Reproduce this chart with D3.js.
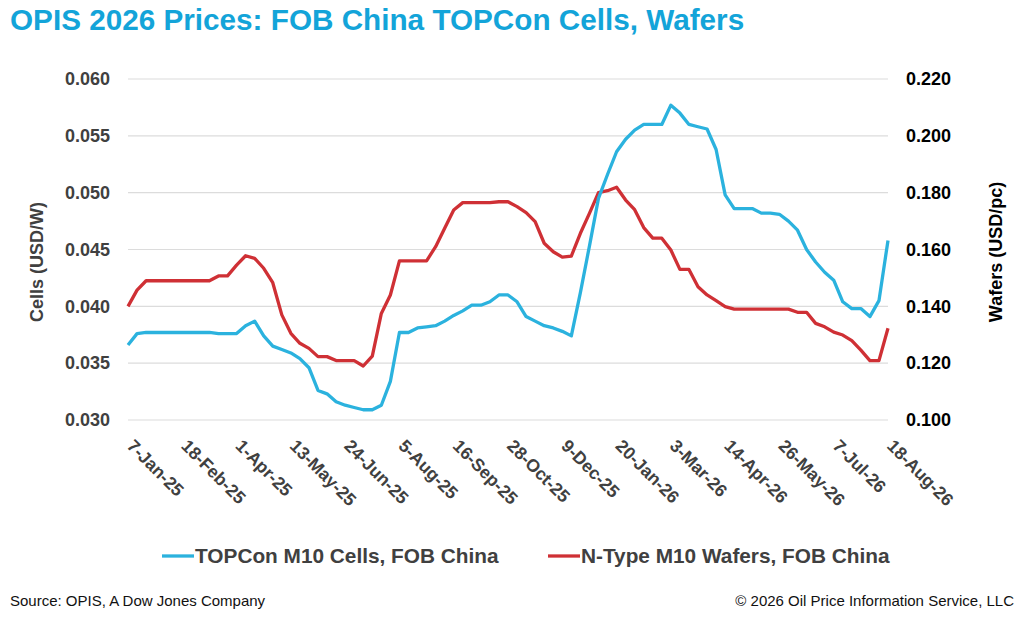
<!DOCTYPE html>
<html>
<head>
<meta charset="utf-8">
<script src="https://cdn.jsdelivr.net/npm/d3@7"></script>
<style>
  html, body { margin: 0; padding: 0; background: #fff; }
  svg { display: block; font-family: "Liberation Sans", Arial, sans-serif; }
</style>
</head>
<body>
<svg id="chart" width="1024" height="617"></svg>
<script>
// ---- Data ----
const startDate = "2025-01-07"; // weekly observations
const cellsValues = [
  0.0366, 0.0376, 0.0377, 0.0377, 0.0377, 0.0377, 0.0377, 0.0377, 0.0377, 0.0377,
  0.0376, 0.0376, 0.0376, 0.0383, 0.0387, 0.0374, 0.0365, 0.0362, 0.0359, 0.0354,
  0.0346, 0.0326, 0.0323, 0.0316, 0.0313, 0.0311, 0.0309, 0.0309, 0.0313, 0.0334,
  0.0377, 0.0377, 0.0381, 0.0382, 0.0383, 0.0387, 0.0392, 0.0396, 0.0401, 0.0401,
  0.0404, 0.0410, 0.0410, 0.0404, 0.0391, 0.0387, 0.0383, 0.0381, 0.0378, 0.0374,
  0.0412, 0.0453, 0.0495, 0.0516, 0.0536, 0.0547, 0.0555, 0.0560, 0.0560, 0.0560,
  0.0577, 0.0570, 0.0560, 0.0558, 0.0556, 0.0538, 0.0498, 0.0486, 0.0486, 0.0486,
  0.0482, 0.0482, 0.0481, 0.0475, 0.0467, 0.0450, 0.0439, 0.0430, 0.0423, 0.0404,
  0.0398, 0.0398, 0.0391, 0.0405, 0.0458
];
const waferValues = [
  0.1400, 0.1457, 0.1490, 0.1490, 0.1490, 0.1490, 0.1490, 0.1490, 0.1490, 0.1490,
  0.1507, 0.1507, 0.1545, 0.1578, 0.1569, 0.1534, 0.1483, 0.1370, 0.1305, 0.1270,
  0.1252, 0.1223, 0.1223, 0.1209, 0.1209, 0.1209, 0.1190, 0.1225, 0.1375, 0.1440,
  0.1560, 0.1560, 0.1560, 0.1560, 0.1610, 0.1675, 0.1739, 0.1765, 0.1765, 0.1765,
  0.1765, 0.1768, 0.1768, 0.1751, 0.1730, 0.1698, 0.1622, 0.1592, 0.1573, 0.1577,
  0.1657, 0.1727, 0.1800, 0.1807, 0.1819, 0.1774, 0.1740, 0.1677, 0.1640, 0.1640,
  0.1598, 0.1530, 0.1530, 0.1469, 0.1440, 0.1420, 0.1399, 0.1390, 0.1390, 0.1390,
  0.1390, 0.1390, 0.1390, 0.1390, 0.1379, 0.1379, 0.1340, 0.1328, 0.1309, 0.1299,
  0.1279, 0.1246, 0.1209, 0.1209, 0.1323
];
const xTickLabels = ["7-Jan-25","18-Feb-25","1-Apr-25","13-May-25","24-Jun-25","5-Aug-25",
  "16-Sep-25","28-Oct-25","9-Dec-25","20-Jan-26","3-Mar-26","14-Apr-26","26-May-26","7-Jul-26","18-Aug-26"];
const leftTicks = [0.030, 0.035, 0.040, 0.045, 0.050, 0.055, 0.060];
const rightTicks = [0.100, 0.120, 0.140, 0.160, 0.180, 0.200, 0.220];
const seriesNames = ["TOPCon M10 Cells, FOB China", "N-Type M10 Wafers, FOB China"];

// ---- Build ----
const parse = d3.utcParse("%Y-%m-%d");
const dates = cellsValues.map((_, i) => d3.utcDay.offset(parse(startDate), 7 * i));
const tickDates = xTickLabels.map((_, k) => dates[k * 6]);

const svg = d3.select("#chart");
const blue = "#2bb2de", red = "#cf3035";

const x = d3.scaleUtc().domain([dates[0], dates[dates.length - 1]]).range([128, 888]);
const yL = d3.scaleLinear().domain([0.030, 0.060]).range([420, 79]);
const yR = d3.scaleLinear().domain([0.100, 0.220]).range([420, 79]);

// title
svg.append("text").attr("x", 10).attr("y", 30)
  .attr("font-size", 29.7).attr("font-weight", "bold").attr("fill", "#13a4d9")
  .text("OPIS 2026 Prices: FOB China TOPCon Cells, Wafers");

// gridlines
svg.append("g").selectAll("line").data(leftTicks).join("line")
  .attr("x1", 128).attr("x2", 888)
  .attr("y1", d => yL(d)).attr("y2", d => yL(d))
  .attr("stroke", "#dcdcdc").attr("stroke-width", 1.2);

// left axis
const gL = svg.append("g").attr("transform", "translate(110,0)")
  .call(d3.axisLeft(yL).tickValues(leftTicks).tickFormat(d3.format(".3f")).tickSize(0).tickPadding(0));
gL.select(".domain").remove();
gL.selectAll("text").attr("font-size", 18).attr("font-weight", "bold").attr("fill", "#404040")
  .attr("font-family", "Liberation Sans, Arial, sans-serif");

// right axis
const gR = svg.append("g").attr("transform", "translate(906,0)")
  .call(d3.axisRight(yR).tickValues(rightTicks).tickFormat(d3.format(".3f")).tickSize(0).tickPadding(0));
gR.select(".domain").remove();
gR.selectAll("text").attr("font-size", 18).attr("font-weight", "bold").attr("fill", "#000")
  .attr("font-family", "Liberation Sans, Arial, sans-serif");

// x axis
const gX = svg.append("g")
  .call(d3.axisBottom(x).tickValues(tickDates).tickFormat((d, i) => xTickLabels[i]).tickSize(0));
gX.select(".domain").remove();
gX.selectAll(".tick").attr("transform", d => `translate(${x(d) - 2},447)`);
gX.selectAll("text")
  .attr("x", 0).attr("y", 0).attr("dy", null)
  .attr("text-anchor", "start")
  .attr("transform", "rotate(45)")
  .attr("font-size", 17.6).attr("font-weight", "bold").attr("fill", "#404040")
  .attr("font-family", "Liberation Sans, Arial, sans-serif");

// axis titles
svg.append("text").attr("transform", "translate(43,262) rotate(-90)")
  .attr("text-anchor", "middle").attr("font-size", 18).attr("font-weight", "bold").attr("fill", "#404040")
  .text("Cells (USD/W)");
svg.append("text").attr("transform", "translate(1002,252) rotate(-90)")
  .attr("text-anchor", "middle").attr("font-size", 18).attr("font-weight", "bold").attr("fill", "#000")
  .text("Wafers (USD/pc)");

// lines
const lineL = d3.line().x((d, i) => x(dates[i])).y(d => yL(d));
const lineR = d3.line().x((d, i) => x(dates[i])).y(d => yR(d));
svg.append("path").datum(waferValues).attr("d", lineR)
  .attr("fill", "none").attr("stroke", red).attr("stroke-width", 3.3).attr("stroke-linejoin", "round");
svg.append("path").datum(cellsValues).attr("d", lineL)
  .attr("fill", "none").attr("stroke", blue).attr("stroke-width", 3.3).attr("stroke-linejoin", "round");

// legend
const legend = [
  { name: seriesNames[0], color: blue, x0: 162, x1: 194 },
  { name: seriesNames[1], color: red, x0: 548, x1: 580 }
];
legend.forEach(l => {
  svg.append("line").attr("x1", l.x0).attr("x2", l.x1).attr("y1", 556).attr("y2", 556)
    .attr("stroke", l.color).attr("stroke-width", 3.3);
  svg.append("text").attr("x", l.x1 + 1).attr("y", 563)
    .attr("font-size", 20.8).attr("font-weight", "bold").attr("fill", "#404040").text(l.name);
});

// footer
svg.append("text").attr("x", 10).attr("y", 606).attr("font-size", 15).attr("fill", "#111")
  .text("Source: OPIS, A Dow Jones Company");
svg.append("text").attr("x", 1014).attr("y", 606).attr("text-anchor", "end").attr("font-size", 15).attr("fill", "#111")
  .text("\u00a9 2026 Oil Price Information Service, LLC");
</script>
</body>
</html>
